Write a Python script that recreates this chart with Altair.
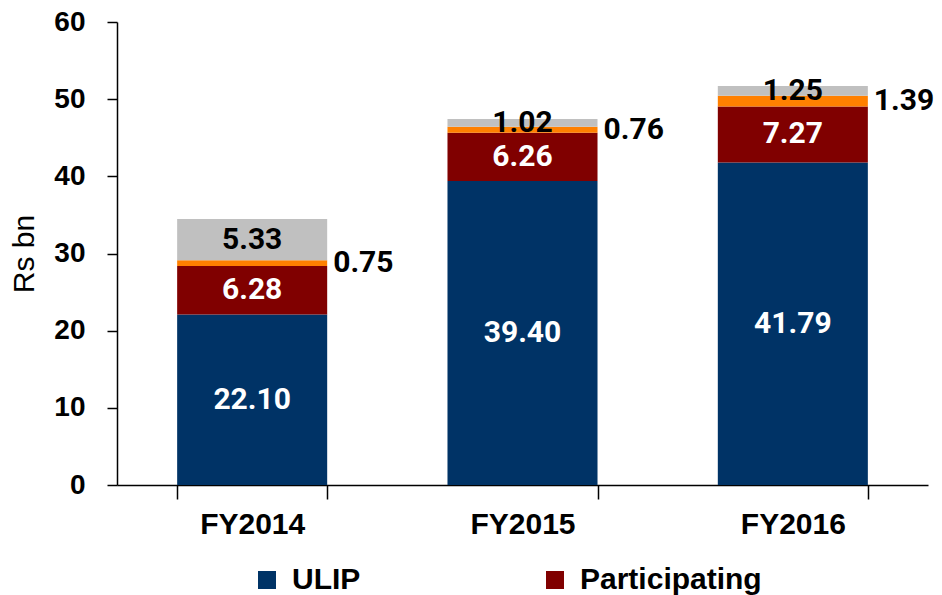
import altair as alt
import pandas as pd

years = ["FY2014", "FY2015", "FY2016"]
series = ["ULIP", "Participating", "Non-participating", "Others"]
ulip = [22.10, 39.40, 41.79]
participating = [6.28, 6.26, 7.27]
non_participating = [0.75, 0.76, 1.39]
others = [5.33, 1.02, 1.25]
colors = ["#003366", "#800000", "#FF8000", "#C0C0C0"]

rows = []
for i, y in enumerate(years):
    for k, (s, vals) in enumerate(zip(series, [ulip, participating, non_participating, others])):
        rows.append({"year": y, "series": s, "value": vals[i], "order": k})
df = pd.DataFrame(rows)

AX_FONT = "Liberation Sans"
LBL_FONT = "Roboto"

x_enc = alt.X(
    "year:N",
    sort=years,
    scale=alt.Scale(paddingInner=0.445, paddingOuter=0.2225),
    axis=alt.Axis(
        title=None,
        labelAngle=0,
        labelFont=AX_FONT,
        labelFontSize=30,
        labelFontWeight="bold",
        labelColor="black",
        labelPadding=10,
        tickBand="extent",
        tickSize=14,
        tickColor="black",
        tickWidth=1.5,
        domainColor="black",
        domainWidth=1.5,
    ),
)

bars = alt.Chart(df).mark_bar().encode(
    x=x_enc,
    y=alt.Y(
        "value:Q",
        stack="zero",
        scale=alt.Scale(domain=[0, 60]),
        axis=alt.Axis(
            title="Rs bn",
            values=[0, 10, 20, 30, 40, 50, 60],
            grid=False,
            labelFont=AX_FONT,
            labelFontSize=28,
            labelFontWeight="bold",
            labelColor="black",
            labelPadding=22,
            tickSize=10,
            tickColor="black",
            tickWidth=1.5,
            domainColor="black",
            domainWidth=1.5,
            titleFont=AX_FONT,
            titleFontSize=30,
            titleFontWeight="normal",
            titleColor="black",
            titlePadding=14,
        ),
    ),
    color=alt.Color(
        "series:N",
        scale=alt.Scale(domain=series, range=colors),
        legend=alt.Legend(
            title=None,
            values=["ULIP", "Participating"],
            orient="none",
            legendX=135,
            legendY=543,
            direction="horizontal",
            symbolType="square",
            symbolSize=324,
            symbolStrokeWidth=0,
            labelFont=AX_FONT,
            labelFontSize=30,
            labelFontWeight="bold",
            labelColor="black",
            labelOffset=10,
            columnPadding=179,
            labelLimit=400,
        ),
    ),
    order=alt.Order("order:Q", sort="ascending"),
)

stacked = alt.Chart(df).transform_window(
    cum="sum(value)", groupby=["year"], sort=[alt.SortField("order")]
).transform_calculate(
    mid="datum.cum - datum.value / 2"
)

inside = stacked.transform_filter(
    "datum.series != 'Non-participating'"
).mark_text(
    font=LBL_FONT, fontSize=30, fontWeight="bold", baseline="middle", align="center"
).encode(
    x=alt.X("year:N", sort=years),
    y=alt.Y("mid:Q"),
    text=alt.Text("value:Q", format=".2f"),
    color=alt.condition("datum.series == 'Others'", alt.value("black"), alt.value("white")),
)

outside = stacked.transform_filter(
    "datum.series == 'Non-participating'"
).mark_text(
    font=LBL_FONT, fontSize=30, fontWeight="bold", baseline="middle", align="left", dx=81, color="black"
).encode(
    x=alt.X("year:N", sort=years),
    y=alt.Y("mid:Q"),
    text=alt.Text("value:Q", format=".2f"),
)

chart = alt.layer(bars, inside, outside).properties(
    width=811,
    height=463,
    autosize=alt.AutoSizeParams(type="none"),
    padding={"left": 109, "top": 14, "right": 6, "bottom": 116},
).configure_view(stroke=None)

chart.save("out.html", embed_options={"renderer": "svg", "actions": False})
